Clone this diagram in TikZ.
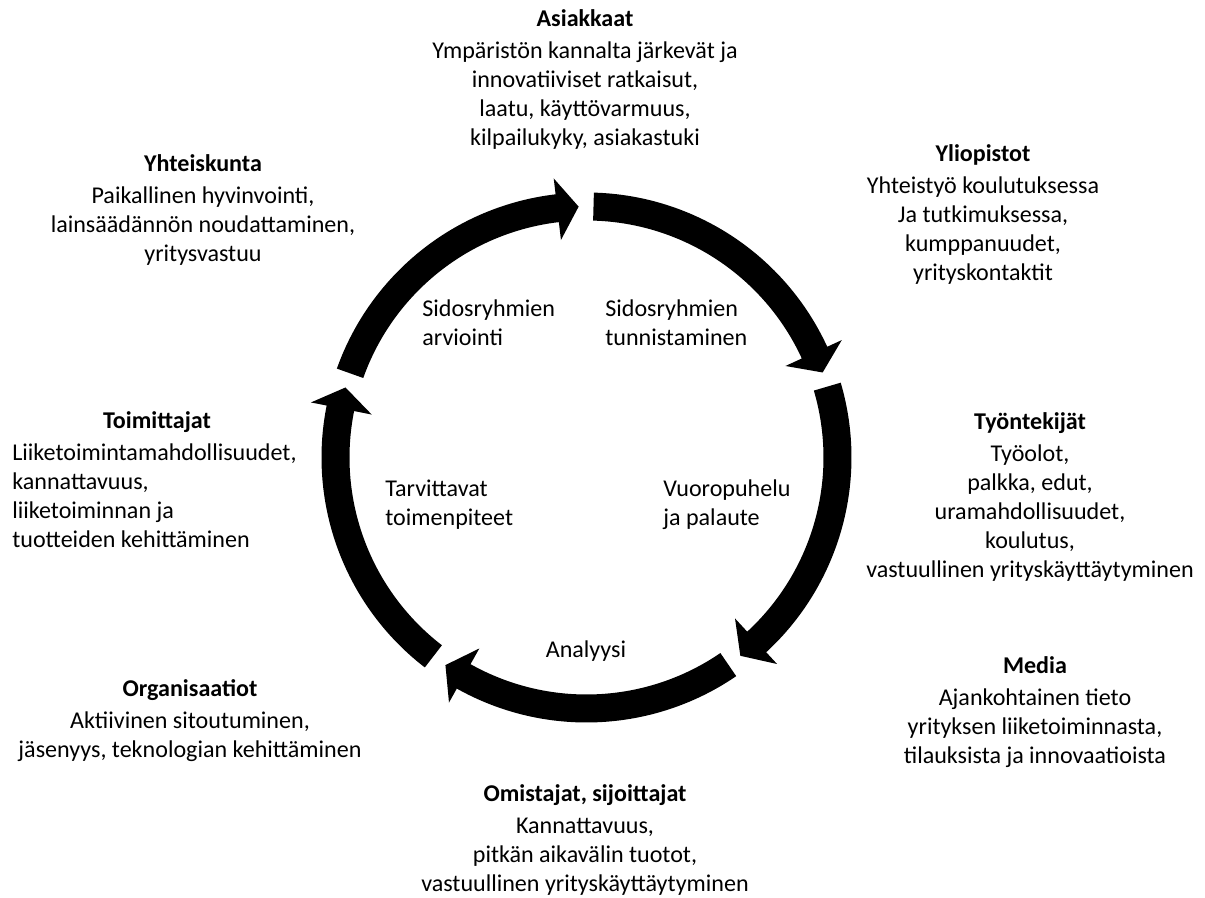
\documentclass[tikz,border=0pt]{standalone}
\usepackage{fontspec}
\setmainfont{Carlito}
\begin{document}
\begin{tikzpicture}[x=0.02cm,y=0.02cm,
  txt/.style={inner sep=0pt, font=\fontsize{13.7}{16.5}\selectfont, text=black},
  ctxt/.style={txt, align=center, anchor=north},
  ltxt/.style={txt, align=left, anchor=north west},
  seg/.style={fill=black}]
\useasboundingbox (0,0) rectangle (1205,897);
\coordinate (C) at (586.5,439.5);
\begin{scope}[shift={(C)}]
\foreach \k in {0,...,4}{
  \pgfmathsetmacro\angS{88.4-72*\k}
  \pgfmathsetmacro\angB{24.7-72*\k}
  \pgfmathsetmacro\angT{19.8-72*\k}
  \fill[seg] (\angS:265) arc[start angle=\angS, end angle=\angB, radius=265]
    -- (\angB:281) -- (\angT:251) -- (\angB:219) -- (\angB:237)
    arc[start angle=\angB, end angle=\angS, radius=237] -- cycle;
}
\end{scope}
% outer stakeholder texts
\node[ctxt] (asiakkaat) at (585,891.3) {\strut\textbf{Asiakkaat}\\[1.7pt]Ympäristön kannalta järkevät ja\\innovatiiviset ratkaisut,\\laatu, käyttövarmuus,\\kilpailukyky, asiakastuki};
\node[ctxt] (yhteiskunta) at (203,746.3) {\strut\textbf{Yhteiskunta}\\[1.7pt]Paikallinen hyvinvointi,\\lainsäädännön noudattaminen,\\yritysvastuu};
\node[ctxt] (yliopistot) at (983,756.3) {\strut\textbf{Yliopistot}\\[1.7pt]Yhteistyö koulutuksessa\\Ja tutkimuksessa,\\kumppanuudet,\\yrityskontaktit};
\node[ctxt] (tyontekijat) at (1030,488.3) {\strut\textbf{Työntekijät}\\[1.7pt]Työolot,\\palkka, edut,\\uramahdollisuudet,\\koulutus,\\vastuullinen yrityskäyttäytyminen};
\node[ctxt] (toimittajat) at (157,489.3) {\strut\textbf{Toimittajat}};
\node[ltxt] (toimittajatb) at (12,457.3) {\strut Liiketoimintamahdollisuudet,\\kannattavuus,\\liiketoiminnan ja\\tuotteiden kehittäminen};
\node[ctxt] (organisaatiot) at (190,221.3) {\strut\textbf{Organisaatiot}\\[1.7pt]Aktiivinen sitoutuminen,\\jäsenyys, teknologian kehittäminen};
\node[ctxt] (media) at (1035,244.3) {\strut\textbf{Media}\\[1.7pt]Ajankohtainen tieto\\yrityksen liiketoiminnasta,\\tilauksista ja innovaatioista};
\node[ctxt] (omistajat) at (585,116.3) {\strut\textbf{Omistajat, sijoittajat}\\[1.7pt]Kannattavuus,\\pitkän aikavälin tuotot,\\vastuullinen yrityskäyttäytyminen};
% inner step labels
\node[ltxt] (arviointi) at (422,601.3) {\strut Sidosryhmien\\arviointi};
\node[ltxt] (tunnistaminen) at (605,601.3) {\strut Sidosryhmien\\tunnistaminen};
\node[ltxt] (toimenpiteet) at (385,421.3) {\strut Tarvittavat\\toimenpiteet};
\node[ltxt] (vuoropuhelu) at (663,421.3) {\strut Vuoropuhelu\\ja palaute};
\node[ctxt] (analyysi) at (586,260.3) {\strut Analyysi};
\end{tikzpicture}
\end{document}
